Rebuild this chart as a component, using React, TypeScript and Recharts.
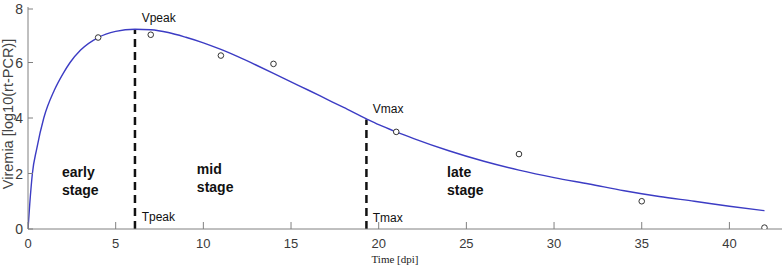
import { ComposedChart, Line, Scatter, XAxis, YAxis, ReferenceLine, ReferenceDot } from "recharts";

// measured viremia (circles)
const obsDays = [4, 7, 11, 14, 21, 28, 35, 42];
const obsValues = [6.9, 7.0, 6.25, 5.95, 3.5, 2.7, 1.0, 0.05];

// fitted curve
const fitDays = [0, 0.1, 0.25, 0.5, 0.9, 1.5, 2, 2.4, 3, 4, 5, 6.1, 7, 8, 9, 10, 11, 12, 13, 14, 15, 16, 17, 18, 19.3, 20, 21, 22, 24, 26, 28, 30, 32, 34, 35, 36, 38, 40, 42];
const fitValues = [0, 0.9, 2.0, 2.9, 4.0, 5.0, 5.6, 6.0, 6.45, 6.9, 7.12, 7.2, 7.18, 7.08, 6.91, 6.71, 6.47, 6.2, 5.91, 5.61, 5.3, 5.0, 4.69, 4.38, 3.97, 3.76, 3.5, 3.26, 2.82, 2.44, 2.12, 1.85, 1.62, 1.38, 1.27, 1.17, 1.0, 0.82, 0.66];

// peak and max markers
const tPeak = 6.1;
const vPeak = 7.2;
const tMax = 19.3;
const vMax = 3.95;

const xTicks = [0, 5, 10, 15, 20, 25, 30, 35, 40];
const yTicks = [0, 2, 4, 6, 8];

const observed = obsDays.map((t, i) => ({ t, v: obsValues[i] }));
const fitted = fitDays.map((t, i) => ({ t, v: fitValues[i] }));

const AXIS = "#808080";
const TEXT = "#3a3a3a";
const SANS = "Arial, 'Liberation Sans', sans-serif";

function XTick(props: any) {
  const { x, y, payload } = props;
  return (
    <g>
      <line x1={x} x2={x} y1={y} y2={y - 7} stroke={AXIS} strokeWidth={1} />
      <text x={x} y={y + 19} textAnchor="middle" fontSize={13} fill={TEXT} fontFamily={SANS}>
        {payload.value}
      </text>
    </g>
  );
}

function YTick(props: any) {
  const { x, y, payload } = props;
  return (
    <g>
      <line x1={x} x2={x + 5} y1={y} y2={y} stroke={AXIS} strokeWidth={1} />
      <text x={x - 5} y={y + 5} textAnchor="end" fontSize={14} fill={TEXT} fontFamily={SANS}>
        {payload.value}
      </text>
    </g>
  );
}

function Ring(props: any) {
  const { cx, cy } = props;
  return <circle cx={cx} cy={cy} r={2.8} fill="#fff" stroke="#333" strokeWidth={1} />;
}

function textShape(lines: string[], bold: boolean, size: number) {
  return (p: any) => (
    <text x={p.cx} y={p.cy} fontSize={size} fontWeight={bold ? "bold" : "normal"} fill="#111" fontFamily={SANS}>
      {lines.map((s, i) => (
        <tspan key={s + i} x={p.cx} dy={i === 0 ? size * 0.36 : size * 1.3}>
          {s}
        </tspan>
      ))}
    </text>
  );
}

export default function App() {
  return (
    <div style={{ position: "absolute", left: 0, top: 0, background: "#fff" }}>
      <ComposedChart width={784} height={268} margin={{ top: 7, right: 2, bottom: 1, left: 0 }}>
        <XAxis
          dataKey="t"
          type="number"
          domain={[0, 43]}
          ticks={xTicks}
          allowDataOverflow
          stroke={AXIS}
          tickLine={false}
          tickSize={0}
          tickMargin={0}
          height={38}
          tick={<XTick />}
          label={{ value: "Time [dpi]", position: "insideBottom", offset: 4, dx: -10, fontSize: 11, fill: "#222", fontFamily: "'Liberation Serif', 'Times New Roman', serif" }}
        />
        <YAxis
          dataKey="v"
          type="number"
          domain={[0, 8]}
          ticks={yTicks}
          allowDataOverflow
          stroke={AXIS}
          tickLine={false}
          tickSize={0}
          tickMargin={0}
          width={28}
          tick={<YTick />}
          label={{ value: "Viremia [log10(rt-PCR)]", angle: -90, position: "insideLeft", offset: 0, dx: 8, dy: -4, fontSize: 14.5, fill: "#444", fontFamily: SANS, style: { textAnchor: "middle" } }}
        />
        <ReferenceLine segment={[{ x: tPeak, y: 0 }, { x: tPeak, y: vPeak }]} stroke="#111" strokeWidth={2.5} strokeDasharray="8 5" />
        <ReferenceLine segment={[{ x: tMax, y: 0 }, { x: tMax, y: vMax }]} stroke="#111" strokeWidth={2.5} strokeDasharray="8 5" />
        <Line data={fitted} dataKey="v" type="monotone" stroke="#3c3cc4" strokeWidth={1.4} dot={false} isAnimationActive={false} />
        <Scatter data={observed} dataKey="v" shape={<Ring />} isAnimationActive={false} />

        <ReferenceDot x={6.48} y={7.63} r={0} shape={textShape(["Vpeak"], false, 12)} />
        <ReferenceDot x={6.48} y={0.45} r={0} shape={textShape(["Tpeak"], false, 12)} />
        <ReferenceDot x={19.66} y={4.33} r={0} shape={textShape(["Vmax"], false, 12)} />
        <ReferenceDot x={19.66} y={0.4} r={0} shape={textShape(["Tmax"], false, 12)} />
        <ReferenceDot x={1.94} y={2.05} r={0} shape={textShape(["early", "stage"], true, 14)} />
        <ReferenceDot x={9.63} y={2.16} r={0} shape={textShape(["mid", "stage"], true, 14)} />
        <ReferenceDot x={23.9} y={2.05} r={0} shape={textShape(["late", "stage"], true, 14)} />
      </ComposedChart>
    </div>
  );
}
